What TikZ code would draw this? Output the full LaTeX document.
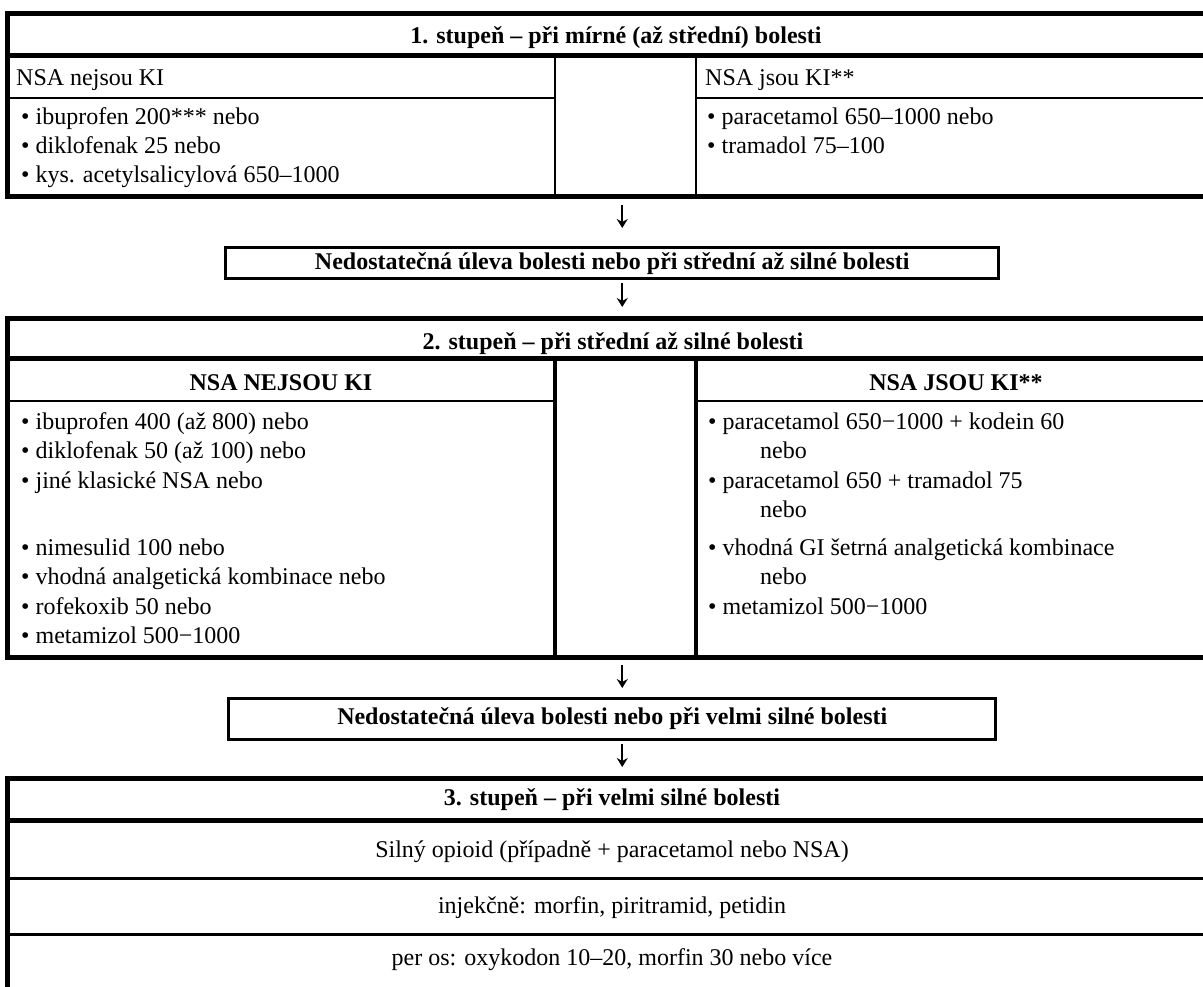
\documentclass[tikz,border=0pt]{standalone}
\usepackage{fontspec}
\setmainfont{Liberation Serif}
\usetikzlibrary{arrows.meta}
\newcommand\tabfont{\fontsize{24}{29.5}\selectfont}

\begin{document}
\begin{tikzpicture}[x=1pt,y=-1pt,>={Stealth[length=9pt,width=11pt,inset=3pt]},font=\tabfont]
    % styles
    \tikzset{
      stage/.style={draw,line width=5pt,inner sep=0pt,outer sep=0pt,anchor=north west,minimum width=1209.5pt},
      gate/.style={draw,line width=3pt,inner sep=0pt,outer sep=0pt,font=\tabfont\bfseries},
      item/.style={inner sep=0pt,anchor=base west},
      head/.style={inner sep=0pt,anchor=base,font=\tabfont\bfseries},
      ctr/.style={inner sep=0pt,anchor=base},
      thick rule/.style={line width=5pt},
      thin rule/.style={line width=2pt},
      wall/.style={line width=4pt},
      flow/.style={->,line width=1.6pt}
    }
    \useasboundingbox (0,0) rectangle (1203,987);
    \clip (0,0) rectangle (1203,987);

    % stage 1
    \node[stage,minimum height=183pt] (s1) at (7.5,14) {};
    \draw[thick rule] (7.5,56) -- (1217,56);
    \draw[thin rule] (7.5,98) -- (555,98) (696,98) -- (1217,98);
    \draw[line width=2.5pt] (555,56) -- (555,197) (696,56) -- (696,197);
    \node[head] (t1) at (616,44) {1. stupeň – při mírné (až střední) bolesti};
    \node[item] (h1a) at (16,86) {NSA nejsou KI};
    \node[item] (h1b) at (705,86) {NSA jsou KI**};
    \node[item] (b1a) at (21,125) {• ibuprofen 200*** nebo};
    \node[item] (b1b) at (21,154) {• diklofenak 25 nebo};
    \node[item] (b1c) at (21,183) {• kys. acetylsalicylová 650–1000};
    \node[item] (b1d) at (707,125) {• paracetamol 650–1000 nebo};
    \node[item] (b1e) at (707,154) {• tramadol 75–100};

    % first gate
    \node[gate,minimum width=773pt,minimum height=31pt] (n1) at (612.25,263.5)
        {Nedostatečná úleva bolesti nebo při střední až silné bolesti};

    % stage 2
    \node[stage,minimum height=338pt] (s2) at (7.5,319) {};
    \draw[thick rule] (7.5,358) -- (1217,358);
    \draw[thin rule] (7.5,401) -- (555,401) (696,401) -- (1217,401);
    \draw[wall] (555,358) -- (555,657) (696,358) -- (696,657);
    \node[head] (t2) at (613,349) {2. stupeň – při střední až silné bolesti};
    \node[head] (h2a) at (281,390) {NSA NEJSOU KI};
    \node[head] (h2b) at (956,390) {NSA JSOU KI**};
    \node[item] (b2a) at (21,429) {• ibuprofen 400 (až 800) nebo};
    \node[item] (b2b) at (21,458.5) {• diklofenak 50 (až 100) nebo};
    \node[item] (b2c) at (21,488) {• jiné klasické NSA nebo};
    \node[item] (b2d) at (21,555) {• nimesulid 100 nebo};
    \node[item] (b2e) at (21,584.5) {• vhodná analgetická kombinace nebo};
    \node[item] (b2f) at (21,614) {• rofekoxib 50 nebo};
    \node[item] (b2g) at (21,643.5) {• metamizol 500−1000};
    \node[item] (b2h) at (708,429) {• paracetamol 650−1000 + kodein 60};
    \node[item] (o2h) at (760,458.5) {nebo};
    \node[item] (b2i) at (708,488) {• paracetamol 650 + tramadol 75};
    \node[item] (o2i) at (760,517.5) {nebo};
    \node[item] (b2j) at (708,555) {• vhodná GI šetrná analgetická kombinace};
    \node[item] (o2j) at (760,584.5) {nebo};
    \node[item] (b2k) at (708,614) {• metamizol 500−1000};

    % second gate
    \node[gate,minimum width=767pt,minimum height=41pt] (n2) at (612.25,718.5)
        {Nedostatečná úleva bolesti nebo při velmi silné bolesti};

    % stage 3
    \node[stage,minimum height=214pt] (s3) at (7.5,778) {};
    \draw[thick rule] (7.5,820) -- (1217,820);
    \draw[line width=3pt] (7.5,878) -- (1217,878) (7.5,934) -- (1217,934);
    \node[head] (t3) at (612,805) {3. stupeň – při velmi silné bolesti};
    \node[ctr] (r1) at (612,857) {Silný opioid (případně + paracetamol nebo NSA)};
    \node[ctr] (r2) at (612,913) {injekčně: morfin, piritramid, petidin};
    \node[ctr] (r3) at (612,965) {per os: oxykodon 10–20, morfin 30 nebo více};

    % arrows
    \draw[flow,shorten <=8pt,shorten >=20pt] ([xshift=10pt]s1.south) -- ([xshift=10pt]n1.north);
    \draw[flow,shorten <=4pt,shorten >=12pt] ([xshift=10pt]n1.south) -- ([xshift=10pt]s2.north);
    \draw[flow,shorten <=8pt,shorten >=10pt] ([xshift=10pt]s2.south) -- ([xshift=10pt]n2.north);
    \draw[flow,shorten <=5pt,shorten >=11pt] ([xshift=10pt]n2.south) -- ([xshift=10pt]s3.north);
\end{tikzpicture}
\end{document}
